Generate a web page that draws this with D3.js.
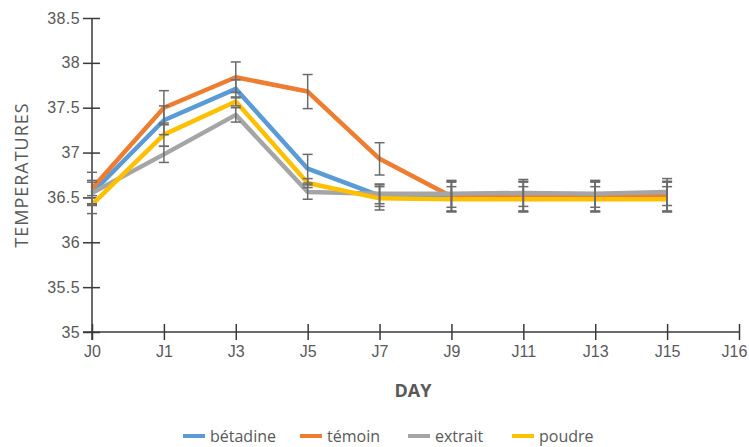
<!DOCTYPE html>
<html>
<head>
<meta charset="utf-8">
<script src="https://cdn.jsdelivr.net/npm/d3@7"></script>
<style>
  body { margin: 0; background: #fff; }
  svg { font-family: "Open Sans", "Noto Sans", sans-serif; }
  .axis path, .axis line { stroke: #3a3a3a; stroke-width: 1.5; }
</style>
</head>
<body>
<svg width="749" height="447"></svg>
<script>
// Categories (J16 has no data)
var days = ["J0", "J1", "J3", "J5", "J7", "J9", "J11", "J13", "J15", "J16"];
var seriesNames = ["bétadine", "témoin", "extrait", "poudre"];
var seriesColors = ["#5b9bd5", "#ed7d31", "#a5a5a5", "#ffc000"];

// Mean temperatures, J0..J15
var betadine = [36.55, 37.36, 37.71, 36.82, 36.52, 36.51, 36.51, 36.51, 36.51];
var temoin   = [36.60, 37.50, 37.84, 37.68, 36.93, 36.51, 36.51, 36.51, 36.51];
var extrait  = [36.55, 36.98, 37.42, 36.56, 36.54, 36.54, 36.55, 36.54, 36.56];
var poudre   = [36.42, 37.20, 37.57, 36.66, 36.49, 36.48, 36.48, 36.48, 36.48];

// Error bar half-widths
var betadineErr = [0.12, 0.16, 0.10, 0.16, 0.12, 0.16, 0.16, 0.16, 0.16];
var temoinErr   = [0.18, 0.19, 0.17, 0.19, 0.18, 0.17, 0.17, 0.17, 0.17];
var extraitErr  = [0.14, 0.09, 0.08, 0.08, 0.11, 0.15, 0.15, 0.15, 0.15];
var poudreErr   = [0.10, 0.13, 0.05, 0.05, 0.13, 0.14, 0.14, 0.14, 0.14];

var yTicks = [35, 35.5, 36, 36.5, 37, 37.5, 38, 38.5];

var seriesValues = [betadine, temoin, extrait, poudre];
var seriesErrors = [betadineErr, temoinErr, extraitErr, poudreErr];

var svg = d3.select("svg");

var x = d3.scalePoint().domain(days).range([92, 739]).padding(0);
var y = d3.scaleLinear().domain([35, 38.5]).range([332, 18]);

// Axes (ticks crossing the line)
var yAxisG = svg.append("g")
    .attr("class", "axis")
    .attr("transform", "translate(" + x("J0") + ",0)")
    .call(d3.axisLeft(y).tickValues(yTicks).tickSize(8).tickSizeOuter(0)
      .tickFormat(function (d) { return d3.format("")(d); }));
yAxisG.selectAll(".tick line").attr("x2", 8).attr("x1", -9);
yAxisG.select(".domain").attr("d", "M0," + y(38.5) + "V" + (y(35) + 8));
yAxisG.selectAll(".tick text")
    .attr("x", -12)
    .style("font-size", "16px")
    .style("letter-spacing", "0.4px")
    .style("fill", "#595959");

var xAxisG = svg.append("g")
    .attr("class", "axis")
    .attr("transform", "translate(0," + y(35) + ")")
    .call(d3.axisBottom(x).tickSize(8).tickSizeOuter(0));
xAxisG.selectAll(".tick line").attr("y1", -8).attr("y2", 8);
xAxisG.select(".domain").attr("d", "M" + (x("J0") - 9) + ",0H" + x("J16"));
xAxisG.selectAll(".tick text")
    .attr("y", 14)
    .style("font-size", "16px")
    .style("fill", "#595959")
    .attr("dx", function (d) { return d === "J16" ? -5 : 0; });

// Axis titles
svg.append("text")
    .attr("x", 413).attr("y", 397)
    .attr("text-anchor", "middle")
    .style("font-size", "18px").attr("font-weight", "bold")
    .attr("fill", "#595959")
    .text("DAY");

svg.append("text")
    .attr("transform", "translate(28,175) rotate(-90)")
    .attr("text-anchor", "middle")
    .style("font-size", "18px")
    .attr("letter-spacing", 1)
    .attr("fill", "#595959")
    .text("TEMPERATURES");

// Lines
var line = d3.line()
    .x(function (d, i) { return x(days[i]); })
    .y(function (d) { return y(d); });

var plot = svg.append("g");

seriesValues.forEach(function (vals, s) {
  plot.append("path")
      .datum(vals)
      .attr("fill", "none")
      .attr("stroke", seriesColors[s])
      .attr("stroke-width", 4.5)
      .attr("stroke-linejoin", "round")
      .attr("d", line);
});

// Error bars
var errG = svg.append("g")
    .attr("stroke", "#6b6b6b")
    .attr("stroke-width", 1.5);

seriesValues.forEach(function (vals, s) {
  vals.forEach(function (v, i) {
    var e = seriesErrors[s][i]
      , cx = x(days[i])
      , top = y(v + e)
      , bot = y(v - e);
    errG.append("line").attr("x1", cx).attr("x2", cx).attr("y1", top).attr("y2", bot);
    errG.append("line").attr("x1", cx - 5).attr("x2", cx + 5).attr("y1", top).attr("y2", top);
    errG.append("line").attr("x1", cx - 5).attr("x2", cx + 5).attr("y1", bot).attr("y2", bot);
  });
});

// Legend
var legendX = [183, 300, 408, 512];
var legend = svg.append("g").attr("transform", "translate(0,436)");
seriesNames.forEach(function (name, s) {
  var g = legend.append("g").attr("transform", "translate(" + legendX[s] + ",0)");
  g.append("line")
      .attr("x1", 0).attr("x2", 22)
      .attr("stroke", seriesColors[s]).attr("stroke-width", 4);
  g.append("text")
      .attr("x", 27).attr("dy", "0.35em")
      .style("font-size", "16px")
      .attr("fill", "#595959")
      .text(name);
});
</script>
</body>
</html>
